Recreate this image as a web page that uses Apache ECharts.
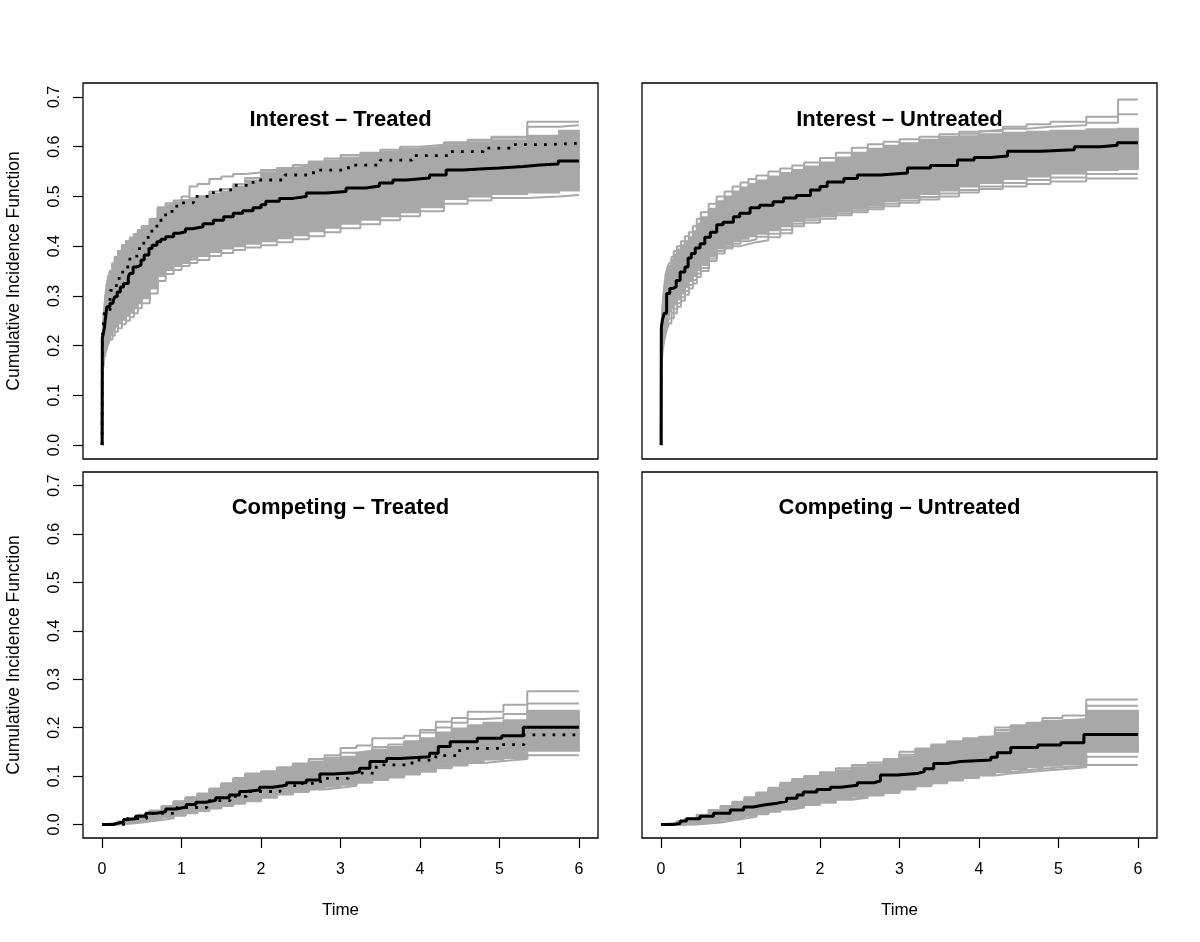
<!DOCTYPE html>
<html>
<head>
<meta charset="utf-8">
<script src="https://cdn.jsdelivr.net/npm/echarts@6/dist/echarts.min.js"></script>
<style>
  html, body { margin: 0; padding: 0; background: #fff; }
  #chart { width: 1200px; height: 942px; }
</style>
</head>
<body>
<div id="chart"></div>
<script>
// time grids used by the gray resampled curves
const timeTop = [0, 0.01, 0.02, 0.04, 0.06, 0.08, 0.1, 0.13, 0.16, 0.2, 0.25, 0.3, 0.35, 0.4, 0.45, 0.5, 0.6, 0.7, 0.8, 0.9, 1.0, 1.1, 1.2, 1.35, 1.5, 1.65, 1.8, 2.0, 2.2, 2.4, 2.6, 2.8, 3.0, 3.25, 3.5, 3.75, 4.0, 4.3, 4.6, 4.9, 5.35, 5.75, 6];
const timeBottom = [0, 0.1, 0.2, 0.3, 0.45, 0.6, 0.75, 0.9, 1.05, 1.2, 1.35, 1.5, 1.65, 1.8, 2.0, 2.2, 2.4, 2.6, 2.8, 3.0, 3.2, 3.4, 3.6, 3.8, 4.0, 4.2, 4.4, 4.6, 4.8, 5.05, 5.35, 6];

const xTicks = [0, 1, 2, 3, 4, 5, 6];
const yTicks = [0, 0.1, 0.2, 0.3, 0.4, 0.5, 0.6, 0.7];

// Interest - Treated
const itLow = [0, 0.16, 0.18, 0.195, 0.205, 0.215, 0.222, 0.23, 0.238, 0.245, 0.252, 0.26, 0.266, 0.275, 0.285, 0.295, 0.315, 0.34, 0.352, 0.36, 0.366, 0.373, 0.38, 0.388, 0.395, 0.4, 0.405, 0.41, 0.416, 0.422, 0.43, 0.437, 0.445, 0.453, 0.46, 0.468, 0.478, 0.495, 0.5, 0.505, 0.508, 0.512, 0.512];
const itHigh = [0, 0.22, 0.26, 0.3, 0.325, 0.34, 0.35, 0.365, 0.378, 0.39, 0.402, 0.41, 0.417, 0.424, 0.432, 0.44, 0.452, 0.475, 0.482, 0.488, 0.493, 0.497, 0.5, 0.505, 0.51, 0.52, 0.532, 0.548, 0.553, 0.558, 0.565, 0.57, 0.576, 0.582, 0.588, 0.594, 0.598, 0.603, 0.608, 0.613, 0.622, 0.632, 0.632];
const itGray = [
  [0, 0.22, 0.26, 0.3, 0.325, 0.34, 0.35, 0.365, 0.378, 0.39, 0.402, 0.41, 0.417, 0.424, 0.432, 0.44, 0.455, 0.478, 0.486, 0.492, 0.5, 0.52, 0.525, 0.535, 0.54, 0.545, 0.548, 0.553, 0.556, 0.56, 0.567, 0.572, 0.578, 0.585, 0.59, 0.596, 0.6, 0.606, 0.612, 0.618, 0.65, 0.65, 0.65],
  [0, 0.21, 0.25, 0.29, 0.32, 0.335, 0.345, 0.36, 0.372, 0.385, 0.398, 0.406, 0.414, 0.42, 0.428, 0.436, 0.45, 0.47, 0.48, 0.486, 0.49, 0.495, 0.5, 0.51, 0.515, 0.525, 0.537, 0.552, 0.557, 0.563, 0.57, 0.576, 0.583, 0.588, 0.594, 0.6, 0.604, 0.609, 0.614, 0.62, 0.64, 0.643, 0.643],
  [0, 0.15, 0.17, 0.185, 0.195, 0.205, 0.212, 0.22, 0.228, 0.235, 0.243, 0.25, 0.257, 0.265, 0.275, 0.285, 0.305, 0.33, 0.344, 0.352, 0.36, 0.366, 0.372, 0.38, 0.386, 0.392, 0.397, 0.402, 0.408, 0.414, 0.42, 0.428, 0.436, 0.444, 0.452, 0.46, 0.47, 0.485, 0.492, 0.497, 0.5, 0.503, 0.503]
];
const itBlackT = [0, 0.003, 0.01, 0.03, 0.05, 0.06, 0.1, 0.14, 0.16, 0.19, 0.23, 0.27, 0.33, 0.35, 0.39, 0.43, 0.49, 0.53, 0.59, 0.63, 0.69, 0.74, 0.8, 0.9, 0.97, 1.05, 1.14, 1.27, 1.4, 1.53, 1.65, 1.77, 1.9, 2.0, 2.06, 2.23, 2.4, 2.57, 2.82, 3.07, 3.32, 3.49, 3.66, 3.83, 4.12, 4.33, 4.54, 4.75, 5.0, 5.3, 5.51, 5.74, 6];
const itBlackV = [0, 0.215, 0.22, 0.237, 0.265, 0.278, 0.285, 0.291, 0.298, 0.308, 0.318, 0.325, 0.338, 0.345, 0.358, 0.362, 0.372, 0.382, 0.395, 0.402, 0.409, 0.414, 0.419, 0.426, 0.429, 0.435, 0.439, 0.445, 0.452, 0.459, 0.466, 0.471, 0.477, 0.483, 0.49, 0.496, 0.5, 0.507, 0.51, 0.517, 0.521, 0.527, 0.533, 0.537, 0.543, 0.553, 0.555, 0.557, 0.56, 0.563, 0.565, 0.571, 0.571];
const itDotT = [0, 0.005, 0.03, 0.1, 0.18, 0.26, 0.35, 0.47, 0.58, 0.69, 0.8, 0.94, 1.15, 1.4, 1.65, 1.9, 2.3, 2.66, 3.1, 3.5, 3.9, 4.35, 4.8, 5.18, 5.6, 6];
const itDotV = [0, 0.22, 0.27, 0.311, 0.335, 0.358, 0.38, 0.406, 0.43, 0.452, 0.47, 0.487, 0.5, 0.513, 0.522, 0.533, 0.543, 0.553, 0.563, 0.573, 0.582, 0.59, 0.597, 0.604, 0.607, 0.61];

// Interest - Untreated
const iuLow = [0, 0.2, 0.22, 0.238, 0.25, 0.26, 0.268, 0.275, 0.283, 0.293, 0.305, 0.318, 0.33, 0.34, 0.352, 0.362, 0.38, 0.395, 0.403, 0.41, 0.415, 0.42, 0.425, 0.432, 0.44, 0.45, 0.457, 0.463, 0.47, 0.476, 0.482, 0.49, 0.497, 0.505, 0.512, 0.52, 0.527, 0.535, 0.54, 0.546, 0.553, 0.555, 0.555];
const iuHigh = [0, 0.25, 0.28, 0.315, 0.34, 0.352, 0.36, 0.372, 0.383, 0.393, 0.402, 0.41, 0.418, 0.43, 0.445, 0.458, 0.475, 0.49, 0.5, 0.51, 0.518, 0.525, 0.532, 0.54, 0.547, 0.553, 0.56, 0.568, 0.578, 0.588, 0.596, 0.602, 0.607, 0.612, 0.617, 0.621, 0.625, 0.628, 0.63, 0.632, 0.635, 0.636, 0.636];
const iuGray = [
  [0, 0.25, 0.285, 0.32, 0.345, 0.358, 0.366, 0.378, 0.39, 0.4, 0.41, 0.42, 0.428, 0.44, 0.455, 0.468, 0.485, 0.5, 0.51, 0.52, 0.528, 0.535, 0.542, 0.55, 0.556, 0.562, 0.568, 0.577, 0.588, 0.598, 0.605, 0.61, 0.615, 0.62, 0.625, 0.63, 0.634, 0.64, 0.645, 0.65, 0.66, 0.695, 0.695],
  [0, 0.24, 0.275, 0.31, 0.335, 0.348, 0.356, 0.368, 0.38, 0.39, 0.4, 0.408, 0.416, 0.428, 0.442, 0.455, 0.472, 0.487, 0.498, 0.508, 0.516, 0.523, 0.53, 0.538, 0.545, 0.551, 0.558, 0.566, 0.576, 0.586, 0.594, 0.6, 0.606, 0.614, 0.62, 0.626, 0.631, 0.636, 0.64, 0.643, 0.648, 0.665, 0.665],
  [0, 0.17, 0.19, 0.21, 0.225, 0.235, 0.245, 0.255, 0.265, 0.278, 0.29, 0.302, 0.315, 0.325, 0.338, 0.35, 0.37, 0.385, 0.395, 0.4, 0.404, 0.408, 0.412, 0.418, 0.426, 0.44, 0.447, 0.455, 0.462, 0.468, 0.474, 0.48, 0.487, 0.494, 0.5, 0.508, 0.515, 0.52, 0.525, 0.53, 0.536, 0.536, 0.536],
  [0, 0.18, 0.2, 0.222, 0.237, 0.246, 0.255, 0.265, 0.274, 0.285, 0.297, 0.31, 0.322, 0.332, 0.345, 0.356, 0.375, 0.39, 0.399, 0.405, 0.41, 0.414, 0.419, 0.425, 0.433, 0.445, 0.452, 0.46, 0.466, 0.472, 0.478, 0.485, 0.492, 0.499, 0.506, 0.513, 0.52, 0.527, 0.533, 0.538, 0.545, 0.545, 0.545]
];
const iuBlackT = [0, 0.003, 0.02, 0.04, 0.07, 0.11, 0.15, 0.19, 0.24, 0.3, 0.34, 0.38, 0.43, 0.49, 0.55, 0.62, 0.7, 0.78, 0.91, 0.99, 1.12, 1.24, 1.41, 1.54, 1.7, 1.88, 2.0, 2.09, 2.3, 2.47, 2.76, 3.1, 3.39, 3.73, 3.94, 4.15, 4.36, 4.78, 5.2, 5.53, 5.74, 6];
const iuBlackV = [0, 0.237, 0.254, 0.265, 0.305, 0.315, 0.318, 0.331, 0.348, 0.358, 0.376, 0.385, 0.396, 0.405, 0.418, 0.428, 0.443, 0.448, 0.459, 0.466, 0.477, 0.482, 0.489, 0.497, 0.502, 0.513, 0.52, 0.529, 0.536, 0.543, 0.547, 0.557, 0.562, 0.573, 0.578, 0.581, 0.591, 0.594, 0.6, 0.603, 0.608, 0.609];

// Competing - Treated
const ctLow = [0, 0, 0.002, 0.004, 0.007, 0.01, 0.015, 0.02, 0.025, 0.03, 0.035, 0.04, 0.045, 0.05, 0.057, 0.064, 0.069, 0.074, 0.078, 0.082, 0.088, 0.094, 0.099, 0.105, 0.112, 0.119, 0.125, 0.13, 0.134, 0.137, 0.152, 0.152];
const ctHigh = [0, 0.002, 0.006, 0.01, 0.018, 0.027, 0.036, 0.046, 0.054, 0.062, 0.072, 0.082, 0.092, 0.1, 0.107, 0.114, 0.12, 0.127, 0.134, 0.14, 0.148, 0.155, 0.16, 0.168, 0.178, 0.19, 0.198, 0.205, 0.21, 0.215, 0.235, 0.235];
const ctGray = [
  [0, 0.003, 0.007, 0.012, 0.02, 0.029, 0.038, 0.048, 0.056, 0.064, 0.074, 0.085, 0.096, 0.105, 0.11, 0.118, 0.126, 0.135, 0.143, 0.158, 0.163, 0.178, 0.178, 0.183, 0.195, 0.212, 0.22, 0.233, 0.233, 0.247, 0.275, 0.275],
  [0, 0.002, 0.006, 0.011, 0.019, 0.028, 0.037, 0.047, 0.055, 0.063, 0.073, 0.083, 0.093, 0.102, 0.108, 0.116, 0.123, 0.13, 0.138, 0.148, 0.152, 0.16, 0.165, 0.172, 0.19, 0.2, 0.21, 0.218, 0.22, 0.228, 0.25, 0.25],
  [0, 0, 0.001, 0.003, 0.006, 0.009, 0.013, 0.018, 0.023, 0.028, 0.033, 0.038, 0.043, 0.048, 0.055, 0.062, 0.067, 0.072, 0.076, 0.08, 0.086, 0.092, 0.097, 0.103, 0.109, 0.116, 0.122, 0.127, 0.131, 0.135, 0.143, 0.143]
];
const ctBlackT = [0, 0.14, 0.18, 0.27, 0.31, 0.42, 0.55, 0.68, 0.8, 0.93, 1.06, 1.18, 1.31, 1.43, 1.6, 1.73, 1.81, 1.98, 2.15, 2.32, 2.57, 2.74, 2.91, 3.16, 3.24, 3.37, 3.58, 3.75, 4.12, 4.23, 4.38, 4.72, 5.03, 5.3, 6];
const ctBlackV = [0, 0.002, 0.005, 0.01, 0.012, 0.017, 0.023, 0.026, 0.032, 0.036, 0.041, 0.046, 0.05, 0.055, 0.061, 0.068, 0.071, 0.077, 0.081, 0.086, 0.092, 0.104, 0.107, 0.109, 0.116, 0.13, 0.136, 0.14, 0.147, 0.161, 0.171, 0.178, 0.183, 0.201, 0.201];
const ctDotT = [0, 0.14, 0.31, 0.56, 0.94, 1.32, 1.61, 1.82, 2.24, 2.5, 2.75, 3.1, 3.45, 3.9, 4.2, 4.5, 5.0, 5.31, 6];
const ctDotV = [0, 0, 0.012, 0.023, 0.035, 0.049, 0.058, 0.068, 0.08, 0.085, 0.095, 0.106, 0.123, 0.133, 0.142, 0.157, 0.165, 0.185, 0.185];

// Competing - Untreated
const cuLow = [0, 0, 0, 0.001, 0.003, 0.006, 0.01, 0.014, 0.019, 0.024, 0.029, 0.034, 0.038, 0.043, 0.048, 0.054, 0.058, 0.063, 0.068, 0.075, 0.082, 0.088, 0.094, 0.099, 0.105, 0.11, 0.114, 0.118, 0.121, 0.124, 0.15, 0.15];
const cuHigh = [0, 0.002, 0.006, 0.01, 0.018, 0.028, 0.036, 0.045, 0.054, 0.063, 0.072, 0.082, 0.09, 0.097, 0.104, 0.11, 0.116, 0.122, 0.13, 0.14, 0.152, 0.16, 0.168, 0.175, 0.18, 0.19, 0.2, 0.206, 0.212, 0.215, 0.235, 0.235];
const cuGray = [
  [0, 0.003, 0.007, 0.012, 0.02, 0.03, 0.038, 0.047, 0.056, 0.066, 0.076, 0.086, 0.094, 0.1, 0.108, 0.116, 0.123, 0.128, 0.135, 0.15, 0.157, 0.165, 0.172, 0.178, 0.182, 0.2, 0.205, 0.21, 0.22, 0.225, 0.258, 0.258],
  [0, 0.002, 0.006, 0.011, 0.019, 0.029, 0.037, 0.046, 0.055, 0.064, 0.073, 0.083, 0.091, 0.098, 0.106, 0.112, 0.118, 0.124, 0.132, 0.144, 0.155, 0.162, 0.17, 0.176, 0.181, 0.195, 0.202, 0.208, 0.214, 0.218, 0.245, 0.245],
  [0, 0, 0, 0, 0.002, 0.004, 0.008, 0.012, 0.016, 0.021, 0.026, 0.031, 0.035, 0.04, 0.045, 0.051, 0.055, 0.06, 0.065, 0.072, 0.079, 0.085, 0.091, 0.096, 0.101, 0.105, 0.108, 0.111, 0.114, 0.118, 0.123, 0.123],
  [0, 0, 0, 0.001, 0.003, 0.005, 0.009, 0.013, 0.018, 0.023, 0.028, 0.033, 0.037, 0.042, 0.047, 0.053, 0.057, 0.062, 0.067, 0.074, 0.081, 0.087, 0.093, 0.098, 0.103, 0.108, 0.112, 0.115, 0.118, 0.121, 0.14, 0.14]
];
const cuBlackT = [0, 0.15, 0.24, 0.32, 0.49, 0.66, 0.87, 1.04, 1.16, 1.29, 1.46, 1.58, 1.71, 1.79, 1.96, 2.13, 2.26, 2.47, 2.68, 2.76, 2.97, 3.22, 3.31, 3.43, 3.6, 3.77, 4.15, 4.23, 4.4, 4.74, 5.03, 5.32, 6];
const cuBlackV = [0, 0.002, 0.007, 0.012, 0.017, 0.023, 0.03, 0.036, 0.04, 0.044, 0.048, 0.054, 0.061, 0.067, 0.072, 0.077, 0.081, 0.086, 0.09, 0.102, 0.105, 0.109, 0.115, 0.126, 0.13, 0.133, 0.139, 0.148, 0.159, 0.164, 0.169, 0.186, 0.186];

const GRAY = '#a8a8a8';
const FONT = '"Liberation Sans", Arial, Helvetica, sans-serif';

function pairs(t, v) {
    return t.map((x, i) => [x, v[i]]);
}

const panels = [
    {title: 'Interest – Treated', time: timeTop, low: itLow, high: itHigh, gray: itGray,
        blackT: itBlackT, blackV: itBlackV, dotT: itDotT, dotV: itDotV},
    {title: 'Interest – Untreated', time: timeTop, low: iuLow, high: iuHigh, gray: iuGray,
        blackT: iuBlackT, blackV: iuBlackV},
    {title: 'Competing – Treated', time: timeBottom, low: ctLow, high: ctHigh, gray: ctGray,
        blackT: ctBlackT, blackV: ctBlackV, dotT: ctDotT, dotV: ctDotV},
    {title: 'Competing – Untreated', time: timeBottom, low: cuLow, high: cuHigh, gray: cuGray,
        blackT: cuBlackT, blackV: cuBlackV}
];

const boxes = [
    {left: 83, top: 83, width: 515, height: 376},
    {left: 642, top: 83, width: 515, height: 376},
    {left: 83, top: 472, width: 515, height: 366},
    {left: 642, top: 472, width: 515, height: 366}
];

// step-shaped polygon between the lower and upper edge of the gray band
function bandRenderer(p) {
    return function (params, api) {
        const upper = [];
        const lower = [];
        p.time.forEach((t, k) => {
            if (k > 0) {
                upper.push(api.coord([t, p.high[k - 1]]));
                lower.push(api.coord([t, p.low[k - 1]]));
            }
            upper.push(api.coord([t, p.high[k]]));
            lower.push(api.coord([t, p.low[k]]));
        });
        return {
            type: 'polygon',
            shape: {points: upper.concat(lower.reverse())},
            style: {fill: GRAY, stroke: GRAY, lineWidth: 2}
        };
    };
}

const chart = echarts.init(document.getElementById('chart'));

const series = [];
panels.forEach((p, i) => {
    const base = {
        type: 'line', xAxisIndex: i, yAxisIndex: i, step: 'end',
        showSymbol: false, symbol: 'none', silent: true, animation: false
    };
    series.push({
        type: 'custom', coordinateSystem: 'cartesian2d', xAxisIndex: i, yAxisIndex: i,
        data: [[0, 0]], renderItem: bandRenderer(p), silent: true, animation: false
    });
    p.gray.forEach(g => {
        series.push(Object.assign({}, base, {
            data: pairs(p.time, g),
            lineStyle: {color: GRAY, width: 2}
        }));
    });
    if (p.dotT) {
        series.push(Object.assign({}, base, {
            data: pairs(p.dotT, p.dotV),
            lineStyle: {color: '#000', width: 2.8, type: [2.8, 7.2]}
        }));
    }
    series.push(Object.assign({}, base, {
        data: pairs(p.blackT, p.blackV),
        lineStyle: {color: '#000', width: 3}
    }));
});

const option = {
    backgroundColor: '#fff',
    animation: false,
    title: panels.map((p, i) => ({
        text: p.title,
        left: boxes[i].left + boxes[i].width / 2,
        top: i < 2 ? 109 : 497,
        textAlign: 'center',
        padding: 0,
        textStyle: {fontSize: 22, fontWeight: 'bold', color: '#000', fontFamily: FONT}
    })),
    grid: boxes.map(b => Object.assign({
        show: true, borderColor: '#000', borderWidth: 1.3,
        backgroundColor: 'transparent', containLabel: false, outerBoundsMode: 'none'
    }, b)),
    xAxis: boxes.map((b, i) => {
        const bottom = i >= 2;
        return {
            type: 'value', gridIndex: i, min: -0.24, max: 6.24, position: 'bottom',
            axisLine: {show: false, onZero: false},
            splitLine: {show: false},
            axisTick: {show: bottom, length: 10, customValues: xTicks, lineStyle: {color: '#000', width: 1.2}},
            axisLabel: {show: bottom, customValues: xTicks, margin: 24, fontSize: 16, color: '#000', fontFamily: FONT},
            name: bottom ? 'Time' : '',
            nameLocation: 'middle',
            nameGap: 64,
            nameTextStyle: {fontSize: 17, color: '#000', fontFamily: FONT}
        };
    }),
    yAxis: boxes.map((b, i) => {
        const left = i % 2 === 0;
        return {
            type: 'value', gridIndex: i, min: -0.028, max: 0.728, position: 'left',
            axisLine: {show: false, onZero: false},
            splitLine: {show: false},
            axisTick: {show: left, length: 10, customValues: yTicks, lineStyle: {color: '#000', width: 1.2}},
            axisLabel: {
                show: left, customValues: yTicks, rotate: 90, margin: 20, fontSize: 16,
                color: '#000', fontFamily: FONT, formatter: v => v.toFixed(1)
            },
            name: left ? 'Cumulative Incidence Function' : '',
            nameLocation: 'middle',
            nameRotate: 90,
            nameGap: 60,
            nameTextStyle: {fontSize: 17.5, color: '#000', fontFamily: FONT}
        };
    }),
    series: series
};

option && chart.setOption(option);
</script>
</body>
</html>
